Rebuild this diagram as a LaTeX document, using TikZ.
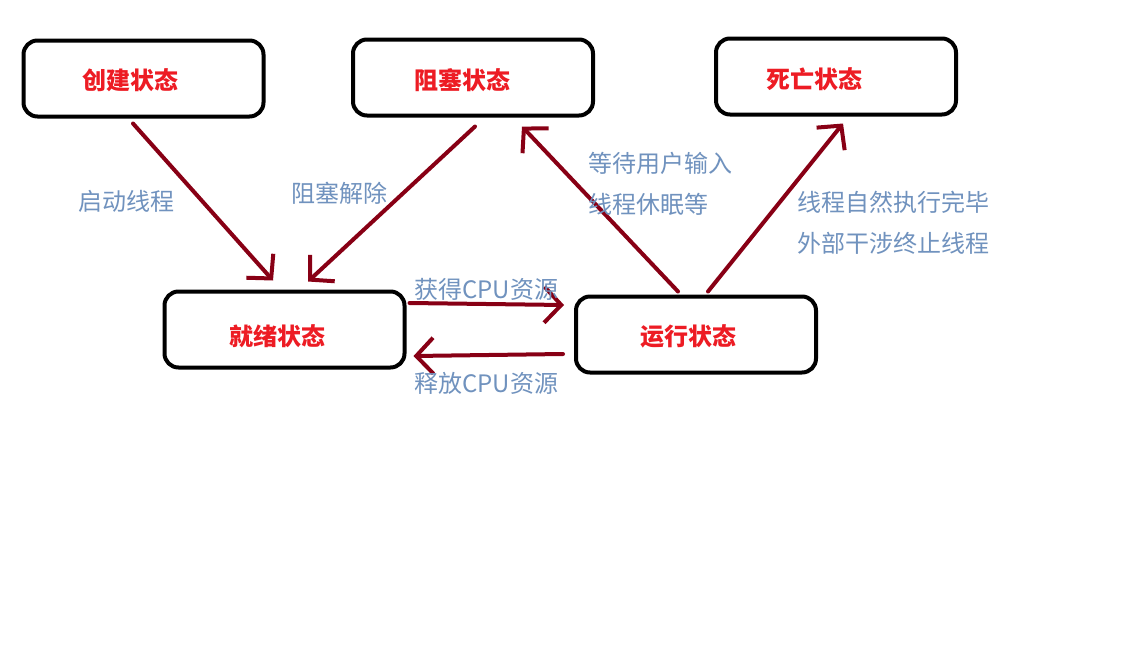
\documentclass[tikz,border=0pt]{standalone}
\usepackage{fontspec}
\setmainfont{Noto Sans CJK SC}
\usetikzlibrary{arrows.meta,calc}
\definecolor{arrowred}{RGB}{136,0,21}
\definecolor{statered}{RGB}{237,28,36}
\definecolor{labelblue}{RGB}{112,146,190}
\begin{document}
\begin{tikzpicture}[x=1pt,y=-1pt,
  box/.style={draw=black,line width=4pt,rounded corners=14pt,minimum width=240pt,minimum height=76pt,inner sep=0pt},
  statetext/.style={text=statered,font=\fontsize{24}{27}\selectfont\bfseries,inner sep=0pt},
  lbl/.style={text=labelblue,font=\fontsize{24}{27}\selectfont,inner sep=0pt,anchor=west},
  conn/.style={draw=arrowred,line width=4pt,line cap=round,-{Straight Barb[length=17pt,width=36pt,line width=4pt]}}]
\useasboundingbox (0,0) rectangle (1121,662);
\fill[white] (0,0) rectangle (1121,662);
% boxes
\node[box] (cj) at (143.5,78.5) {};
\node[box] (zs) at (473,77.5) {};
\node[box] (sw) at (836,76.5) {};
\node[box] (jx) at (284.5,329.5) {};
\node[box] (yx) at (696,334.5) {};
% state texts
\node[statetext] (tcj) at (130,80) {创建状态};
\node[statetext] (tzs) at (462,80) {阻塞状态};
\node[statetext] (tsw) at (814,79) {死亡状态};
\node[statetext] (tjx) at (277,336) {就绪状态};
\node[statetext] (tyx) at (688,336) {运行状态};
% connectors
\draw[conn] ($(cj.south)+(-10.5,5)$) -- ($(jx.north)+(-11.5,-9)$);
\draw[conn] ($(zs.south)+(2,9)$) -- ($(jx.north)+(23.5,-8)$);
\draw[conn] ($(jx.east)+(3,-26.5)$) -- ($(yx.west)+(-10,-29.5)$);
\draw[conn] ($(yx.west)+(-11,19.5)$) -- ($(jx.east)+(7,26.5)$);
\draw[conn] ($(yx.north)+(-18,-3)$) -- ($(zs.south)+(49,9)$);
\draw[conn] ($(yx.north)+(12,-3)$) -- ($(sw.south)+(7,7)$);
% labels
\node[lbl] (l1) at (78,201) {启动线程};
\node[lbl] (l2) at (291,193) {阻塞解除};
\node[lbl] (l3) at (414,289) {获得CPU资源};
\node[lbl] (l4) at (414,383) {释放CPU资源};
\node[lbl] (l5) at (588,163) {等待用户输入};
\node[lbl] (l6) at (588,204) {线程休眠等};
\node[lbl] (l7) at (797,202) {线程自然执行完毕};
\node[lbl] (l8) at (797,243) {外部干涉终止线程};
\end{tikzpicture}
\end{document}
